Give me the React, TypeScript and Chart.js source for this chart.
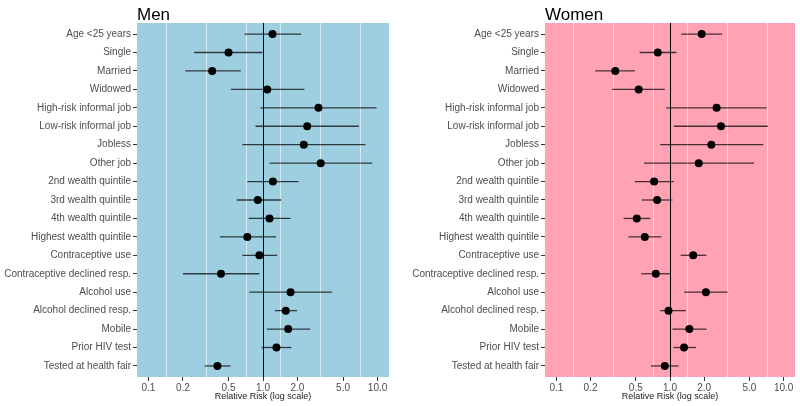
import React, { useEffect, useRef } from "react";
import { Chart, registerables } from "chart.js";

Chart.register(...registerables);

const categories = [
  "Age <25 years",
  "Single",
  "Married",
  "Widowed",
  "High-risk informal job",
  "Low-risk informal job",
  "Jobless",
  "Other job",
  "2nd wealth quintile",
  "3rd wealth quintile",
  "4th wealth quintile",
  "Highest wealth quintile",
  "Contraceptive use",
  "Contraceptive declined resp.",
  "Alcohol use",
  "Alcohol declined resp.",
  "Mobile",
  "Prior HIV test",
  "Tested at health fair",
];

const menRR = [1.21, 0.5, 0.36, 1.09, 3.05, 2.43, 2.27, 3.19, 1.22, 0.9, 1.14, 0.73, 0.93, 0.43, 1.74, 1.58, 1.66, 1.31, 0.4];
const menLo = [0.69, 0.25, 0.21, 0.525, 0.95, 0.86, 0.66, 1.14, 0.73, 0.59, 0.75, 0.42, 0.66, 0.2, 0.76, 1.27, 1.08, 0.97, 0.31];
const menHi = [2.15, 0.99, 0.64, 2.3, 9.8, 6.86, 7.85, 8.99, 2.04, 1.44, 1.74, 1.3, 1.33, 0.93, 4.01, 1.98, 2.58, 1.77, 0.52];

const womenRR = [1.9, 0.78, 0.33, 0.53, 2.57, 2.81, 2.31, 1.79, 0.725, 0.77, 0.51, 0.6, 1.6, 0.75, 2.07, 0.97, 1.48, 1.33, 0.9];
const womenLo = [1.26, 0.54, 0.22, 0.31, 0.93, 1.08, 0.82, 0.59, 0.49, 0.565, 0.39, 0.43, 1.24, 0.56, 1.33, 0.82, 1.05, 1.07, 0.68];
const womenHi = [2.88, 1.14, 0.49, 0.9, 7.1, 7.27, 6.62, 5.48, 1.08, 1.05, 0.67, 0.84, 2.09, 1.0, 3.21, 1.38, 2.1, 1.69, 1.19];

const xTicks = [0.1, 0.2, 0.5, 1, 2, 5, 10];
const xTickLabels = ["0.1", "0.2", "0.5", "1.0", "2.0", "5.0", "10.0"];
const xAxisTitle = "Relative Risk (log scale)";

const FONT = '"Liberation Sans", Arial, sans-serif';

type PanelProps = {
  title: string;
  bg: string;
  rr: number[];
  lo: number[];
  hi: number[];
  leftW: number;
  rightPad: number;
};

function Panel({ title, bg, rr, lo, hi, leftW, rightPad }: PanelProps) {
  const ref = useRef<HTMLCanvasElement | null>(null);

  useEffect(() => {
    if (!ref.current) return;
    const bgPlugin = {
      id: "forestBg",
      beforeDatasetsDraw(chart: any) {
        const { ctx, chartArea } = chart;
        const xs = chart.scales.x;
        ctx.save();
        ctx.fillStyle = bg;
        ctx.fillRect(chartArea.left, chartArea.top, chartArea.right - chartArea.left, chartArea.bottom - chartArea.top);
        ctx.strokeStyle = "rgba(255,255,255,0.75)";
        ctx.lineWidth = 0.8;
        for (let i = 0; i < xTicks.length - 1; i++) {
          const mid = Math.pow(10, (Math.log10(xTicks[i]) + Math.log10(xTicks[i + 1])) / 2);
          const px = Math.round(xs.getPixelForValue(mid)) + 0.5;
          ctx.beginPath();
          ctx.moveTo(px, chartArea.top);
          ctx.lineTo(px, chartArea.bottom);
          ctx.stroke();
        }
        const p1 = Math.round(xs.getPixelForValue(1)) + 0.5;
        ctx.strokeStyle = "#000";
        ctx.lineWidth = 1;
        ctx.beginPath();
        ctx.moveTo(p1, chartArea.top);
        ctx.lineTo(p1, chartArea.bottom);
        ctx.stroke();
        ctx.restore();
      },
      afterDraw(chart: any) {
        const { ctx, chartArea } = chart;
        ctx.save();
        ctx.font = "17px " + FONT;
        ctx.fillStyle = "#000";
        ctx.textBaseline = "alphabetic";
        ctx.textAlign = "left";
        ctx.fillText(title, chartArea.left, 19.5);
        ctx.restore();
      },
    };

    const ciSets = categories.map((_, i) => ({
      type: "scatter" as const,
      data: [
        { x: lo[i], y: i },
        { x: hi[i], y: i },
      ],
      showLine: true,
      borderColor: "rgba(0,0,0,0.72)",
      borderWidth: 1.3,
      pointRadius: 0,
      order: 1,
    }));

    const chart = new Chart(ref.current, {
      type: "scatter",
      data: {
        datasets: [
          {
            type: "scatter",
            data: categories.map((_, i) => ({ x: rr[i], y: i })),
            pointRadius: 4,
            pointBackgroundColor: "#000",
            pointBorderColor: "#000",
            pointBorderWidth: 0,
            order: 0,
          } as any,
          ...ciSets,
        ],
      },
      options: {
        responsive: false,
        animation: false,
        layout: { padding: { top: 23, right: rightPad, left: 0, bottom: 0 } },
        plugins: { legend: { display: false }, tooltip: { enabled: false }, title: { display: false } },
        scales: {
          x: {
            type: "logarithmic",
            min: Math.pow(10, -1.1),
            max: Math.pow(10, 1.1),
            afterBuildTicks: (scale: any) => {
              scale.ticks = xTicks.map((v) => ({ value: v }));
            },
            afterFit: (scale: any) => {
              scale.height = 29;
            },
            ticks: {
              autoSkip: false,
              maxRotation: 0,
              padding: 1,
              color: "#4d4d4d",
              font: { size: 10, family: FONT },
              callback: (_v: any, idx: number) => xTickLabels[idx],
            },
            grid: {
              display: true,
              drawOnChartArea: false,
              drawTicks: true,
              tickLength: 4,
              tickColor: "#333",
              lineWidth: 1,
            },
            border: { display: false },
            title: {
              display: true,
              text: xAxisTitle,
              color: "#1a1a1a",
              font: { size: 9, family: FONT },
              padding: { top: 0, bottom: 4 },
            },
          },
          y: {
            type: "linear",
            reverse: true,
            min: -0.6,
            max: categories.length - 1 + 0.6,
            afterBuildTicks: (scale: any) => {
              scale.ticks = categories.map((_, i) => ({ value: i }));
            },
            afterFit: (scale: any) => {
              scale.width = leftW;
            },
            ticks: {
              autoSkip: false,
              padding: 2,
              color: "#4d4d4d",
              font: { size: 10, family: FONT },
              callback: (v: any) => categories[v as number] ?? "",
            },
            grid: {
              display: true,
              drawOnChartArea: false,
              drawTicks: true,
              tickLength: 4,
              tickColor: "#333",
              lineWidth: 1,
            },
            border: { display: false },
          },
        },
      } as any,
      plugins: [bgPlugin],
    });
    return () => chart.destroy();
  }, [title, bg, rr, lo, hi, leftW, rightPad]);

  return <canvas ref={ref} width={400} height={406} style={{ display: "block", width: 400, height: 406 }} />;
}

export default function App() {
  return (
    <div
      style={{
        position: "fixed",
        left: 0,
        top: 0,
        width: 800,
        height: 406,
        display: "flex",
        background: "#fff",
      }}
    >
      <Panel title="Men" bg="#9ecfe1" rr={menRR} lo={menLo} hi={menHi} leftW={137} rightPad={11} />
      <Panel title="Women" bg="#ffa3b4" rr={womenRR} lo={womenLo} hi={womenHi} leftW={145} rightPad={5} />
    </div>
  );
}
